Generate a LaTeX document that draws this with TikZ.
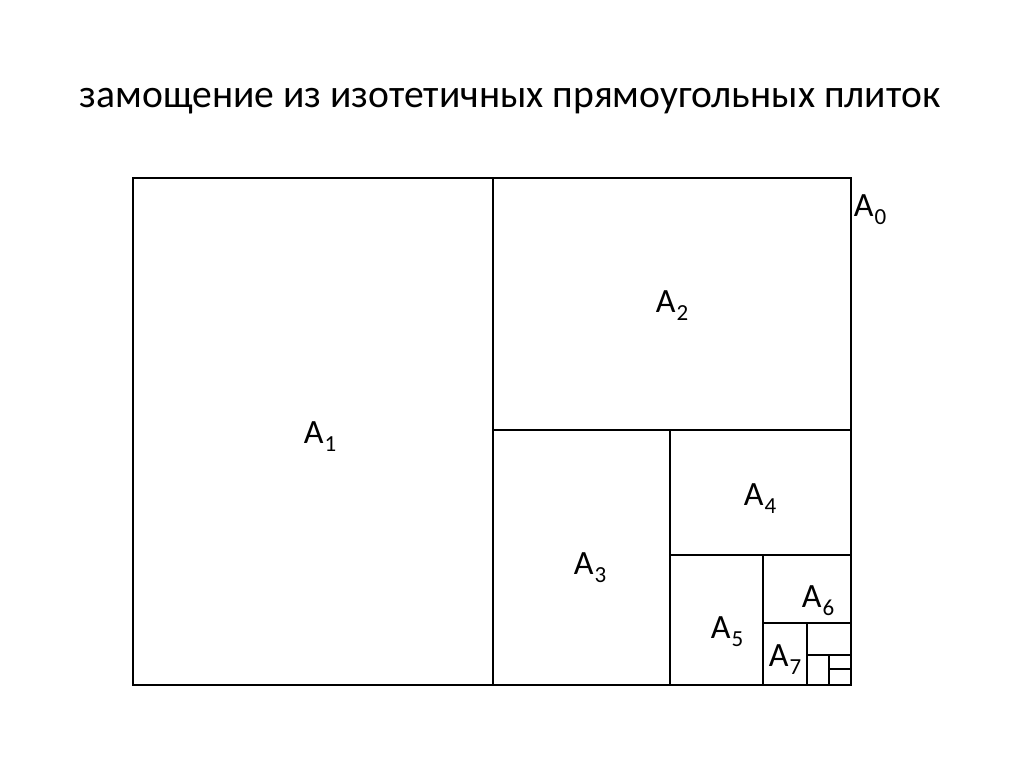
\documentclass[tikz,border=0pt]{standalone}
\usepackage{fontspec}
\setmainfont{Carlito}
\newcommand{\tilelab}[1]{A\kern1pt\raisebox{-8pt}{\fontsize{23}{23}\selectfont #1}}
\begin{document}
\begin{tikzpicture}[x=1pt,y=-1pt,
  tile/.style={draw=black,line width=1.6pt},
  lab/.style={font=\fontsize{34}{34}\selectfont,inner sep=0pt}]
\useasboundingbox (0,0) rectangle (1024,767);
\node[font=\fontsize{39.6}{40}\selectfont,inner sep=0pt,anchor=base] (title) at (510,108) {замощение из изотетичных прямоугольных плиток};
\draw[tile] (133,178) rectangle (851,685);
\draw[tile] (493,178) -- (493,685);
\draw[tile] (493,430) -- (851,430);
\draw[tile] (670,430) -- (670,685);
\draw[tile] (670,555) -- (851,555);
\draw[tile] (763,555) -- (763,685);
\draw[tile] (763,623) -- (851,623);
\draw[tile] (807,623) -- (807,685);
\draw[tile] (807,655) -- (851,655);
\draw[tile] (829,655) -- (829,685);
\draw[tile] (829,669) -- (851,669);
\node[lab] (a0) at (870,210) {\tilelab{0}};
\node[lab] (a1) at (320,437) {\tilelab{1}};
\node[lab] (a2) at (672,306) {\tilelab{2}};
\node[lab] (a3) at (590,568) {\tilelab{3}};
\node[lab] (a4) at (760,499) {\tilelab{4}};
\node[lab] (a5) at (727,632) {\tilelab{5}};
\node[lab] (a6) at (818,601) {\tilelab{6}};
\node[lab] (a7) at (785,660) {\tilelab{7}};
\end{tikzpicture}
\end{document}
